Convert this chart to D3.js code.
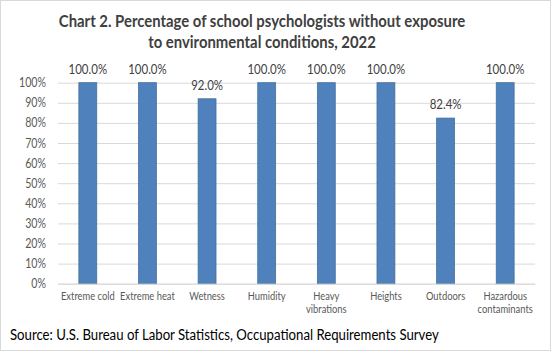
<!DOCTYPE html>
<html><head><meta charset="utf-8">
<script src="https://cdn.jsdelivr.net/npm/d3@7"></script>
<style>body{margin:0;background:#fff}svg{display:block}</style>
</head><body>
<svg id="c" width="551" height="351"></svg>
<script>
const categories = [["Extreme cold"],["Extreme heat"],["Wetness"],["Humidity"],["Heavy","vibrations"],["Heights"],["Outdoors"],["Hazardous","contaminants"]];
const values = [100.0, 100.0, 92.0, 100.0, 100.0, 100.0, 82.4, 100.0];
const yTicks = [0,10,20,30,40,50,60,70,80,90,100];
const titleLines = ["Chart 2. Percentage of school psychologists without exposure","to environmental conditions, 2022"];
const source = "Source: U.S. Bureau of Labor Statistics, Occupational Requirements Survey";

const svg = d3.select("#c");
const font = "Lato, 'Open Sans', sans-serif";
const CF = 0.85; // horizontal condense to mimic Calibri
function condense(sel){
  sel.each(function(){
    const w = this.getComputedTextLength();
    d3.select(this).attr("textLength", w*CF).attr("lengthAdjust","spacingAndGlyphs");
  });
}
svg.append("rect").attr("x",0.5).attr("y",0.5).attr("width",550).attr("height",350)
  .attr("fill","#fff").attr("stroke","#d9d9d9");

const m = {left:58, right:535, top:82.7, bottom:283.7};
const x = d3.scaleBand().domain(d3.range(categories.length)).range([m.left,m.right]).paddingInner(0.7).paddingOuter(0.35);
const y = d3.scaleLinear().domain([0,100]).range([m.bottom,m.top]);

// title
const tt = svg.append("g").attr("font-family",font).attr("font-weight","bold").attr("font-size",17.5).attr("fill","#404040")
  .selectAll("text").data(titleLines).join("text")
  .attr("x",262).attr("y",(d,i)=>27+i*21).attr("text-anchor","middle").text(d=>d);
condense(tt);

// grid
const yAxis = d3.axisLeft(y).tickValues(yTicks).tickFormat(d=>d+"%").tickSize(-(m.right-m.left)).tickPadding(12);
const ga = svg.append("g").attr("transform",`translate(${m.left},0)`).call(yAxis);
ga.select(".domain").remove();
ga.selectAll(".tick line").attr("stroke","#d9d9d9");
ga.selectAll(".tick text").attr("font-family",font).attr("font-size",12.5).attr("fill","#595959");
condense(ga.selectAll(".tick text"));

// bars
svg.append("g").selectAll("rect").data(values).join("rect")
  .attr("x",(d,i)=>x(i)).attr("width",x.bandwidth())
  .attr("y",d=>y(d)).attr("height",d=>y(0)-y(d))
  .attr("fill","#4f81bd").attr("stroke","#41719c").attr("stroke-width",0.8);

// data labels
const dl = svg.append("g").selectAll("text").data(values).join("text")
  .attr("x",(d,i)=>x(i)+x.bandwidth()/2).attr("y",d=>y(d)-9)
  .attr("text-anchor","middle").attr("font-family",font).attr("font-size",13.5).attr("fill","#404040")
  .text(d=>d.toFixed(1)+"%");
condense(dl);

// category labels
const xAxis = d3.axisBottom(x).tickSize(0).tickFormat("");
const gx = svg.append("g").attr("transform",`translate(0,${m.bottom})`).call(xAxis);
gx.select(".domain").attr("stroke","#d9d9d9");
gx.selectAll(".tick").each(function(i){
  const g = d3.select(this);
  categories[i].forEach((s,k)=>g.append("text").attr("x",0).attr("y",16+k*13.5).attr("text-anchor","middle")
    .attr("font-family",font).attr("font-size",11).attr("fill","#595959").text(s));
});
condense(gx.selectAll(".tick text"));

// source
const st = svg.append("text").attr("x",10).attr("y",340).attr("font-family",font).attr("font-size",15.5)
  .attr("fill","#000").text(source);
condense(st);
</script>
</body></html>
